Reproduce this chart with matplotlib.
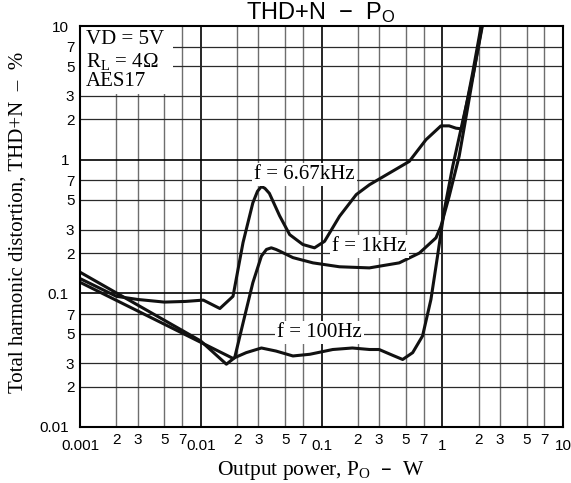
import numpy as np
import matplotlib
matplotlib.use("Agg")
import matplotlib.pyplot as plt
from matplotlib.patches import Rectangle

# f = 6.67kHz
p_667 = [0.001, 0.002, 0.003, 0.005, 0.0075, 0.0105, 0.0144, 0.0185, 0.0224, 0.027, 0.0295,
         0.0318, 0.034, 0.037, 0.045, 0.0545, 0.070, 0.0875, 0.106, 0.141, 0.194, 0.25, 0.388,
         0.533, 0.733, 0.975, 1.14, 1.30, 1.45, 1.78, 2.12]
thd_667 = [0.129, 0.095, 0.09, 0.086, 0.087, 0.089, 0.077, 0.095, 0.24, 0.475, 0.58,
           0.63, 0.61, 0.56, 0.38, 0.275, 0.232, 0.219, 0.245, 0.377, 0.548, 0.65, 0.82,
           0.97, 1.41, 1.79, 1.79, 1.72, 1.70, 4.4, 10.5]

# f = 1kHz
p_1k = [0.001, 0.01, 0.0163, 0.0191, 0.0224, 0.027, 0.0318, 0.035, 0.0384, 0.042, 0.045,
        0.058, 0.085, 0.141, 0.249, 0.44, 0.646, 0.887, 0.975, 1.14, 1.38, 1.53, 1.80, 2.15]
thd_1k = [0.144, 0.044, 0.0295, 0.033, 0.060, 0.12, 0.19, 0.213, 0.219, 0.213, 0.207,
          0.185, 0.169, 0.158, 0.155, 0.169, 0.20, 0.26, 0.318, 0.53, 1.06, 1.8, 4.2, 10.5]

# f = 100Hz
p_100 = [0.001, 0.01, 0.0185, 0.0238, 0.0318, 0.042, 0.058, 0.080, 0.124, 0.18, 0.25, 0.30,
         0.388, 0.47, 0.569, 0.687, 0.806, 0.914, 1.04, 1.22, 1.47, 1.80, 2.17]
thd_100 = [0.121, 0.043, 0.0326, 0.036, 0.039, 0.037, 0.034, 0.035, 0.038, 0.039, 0.038, 0.038,
           0.0344, 0.032, 0.036, 0.048, 0.09, 0.19, 0.42, 0.89, 1.9, 4.3, 10.5]

x_major = [0.001, 0.01, 0.1, 1, 10]
x_major_lbl = ['0.001', '0.01', '0.1', '1', '10']
y_major = [0.01, 0.1, 1, 10]
y_major_lbl = ['0.01', '0.1', '1', '10']
minor_digits = [2, 3, 5, 7]

serif = ['Liberation Serif', 'DejaVu Serif']
sans = ['Liberation Sans', 'DejaVu Sans']
plt.rcParams['font.family'] = sans

fig = plt.figure(figsize=(5.71, 4.83), dpi=100)
ax = fig.add_axes([80 / 571, 1 - 427 / 483, 483 / 571, 401 / 483])
ax.set_xscale('log')
ax.set_yscale('log')
ax.set_xlim(0.001, 10)
ax.set_ylim(0.01, 10)
ax.set_axisbelow(True)

x_minor = [d * m for m in x_major[:-1] for d in minor_digits]
y_minor = [d * m for m in y_major[:-1] for d in minor_digits]
ax.set_xticks(x_major, x_major_lbl)
ax.set_xticks(x_minor, [str(d) for m in x_major[:-1] for d in minor_digits], minor=True)
ax.set_yticks(y_major, y_major_lbl)
ax.set_yticks(y_minor, [str(d) for m in y_major[:-1] for d in minor_digits], minor=True)

ax.tick_params(which='both', length=0, labelsize=11)
ax.tick_params(axis='x', which='major', pad=9)
ax.tick_params(axis='x', which='minor', pad=4.5)
ax.tick_params(axis='y', which='major', pad=8)
ax.tick_params(axis='y', which='minor', pad=4)

ax.grid(which='major', color='black', lw=1.2)
ax.xaxis.grid(True, which='minor', color='#6e6e6e', lw=1.0)
ax.yaxis.grid(True, which='minor', color='#2a2a2a', lw=0.9)
for s in ax.spines.values():
    s.set_linewidth(1.5)

# white box for the conditions
ax.add_patch(Rectangle((0.001, 3.08), 0.00587 - 0.001, 10 - 3.08, facecolor='white',
                       edgecolor='none', zorder=1))

for p, t in [(p_667, thd_667), (p_1k, thd_1k), (p_100, thd_100)]:
    ax.plot(p, t, color='#111111', lw=2.2, solid_joinstyle='round', zorder=2)

box = dict(facecolor='white', edgecolor='none', pad=1.5)
ax.text(0.072, 0.77, 'f = 6.67kHz', family=serif, fontsize=15, ha='center', va='center',
        bbox=box, zorder=3)
ax.text(0.249, 0.224, 'f = 1kHz', family=serif, fontsize=15, ha='center', va='center',
        bbox=box, zorder=3)
ax.text(0.096, 0.051, 'f = 100Hz', family=serif, fontsize=15, ha='center', va='center',
        bbox=box, zorder=3)

ax.text(0.013, 0.99, 'VD = 5V', transform=ax.transAxes, family=serif, fontsize=15,
        va='top', zorder=3)
ax.text(0.013, 0.937, r'R$\mathregular{_L}$ = 4Ω', transform=ax.transAxes, family=serif,
        fontsize=15, va='top', zorder=3)
ax.text(0.013, 0.885, 'AES17', transform=ax.transAxes, family=serif, fontsize=15,
        va='top', zorder=3)

fig.text(321 / 571, 1 - 19.5 / 483, r'THD+N  −  P$\mathregular{_O}$', ha='center',
         va='baseline', fontsize=17, family=sans)
fig.text(321 / 571, 1 - 470 / 483, r'Output power, P$\mathregular{_O}$  –  W', ha='center',
         va='center', fontsize=15.5, family=serif)
fig.text(18 / 571, 1 - 222 / 483, 'Total harmonic distortion, THD+N  –  %', rotation=90,
         ha='center', va='center', fontsize=15, family=serif)

fig.savefig('out.png', dpi=100)
